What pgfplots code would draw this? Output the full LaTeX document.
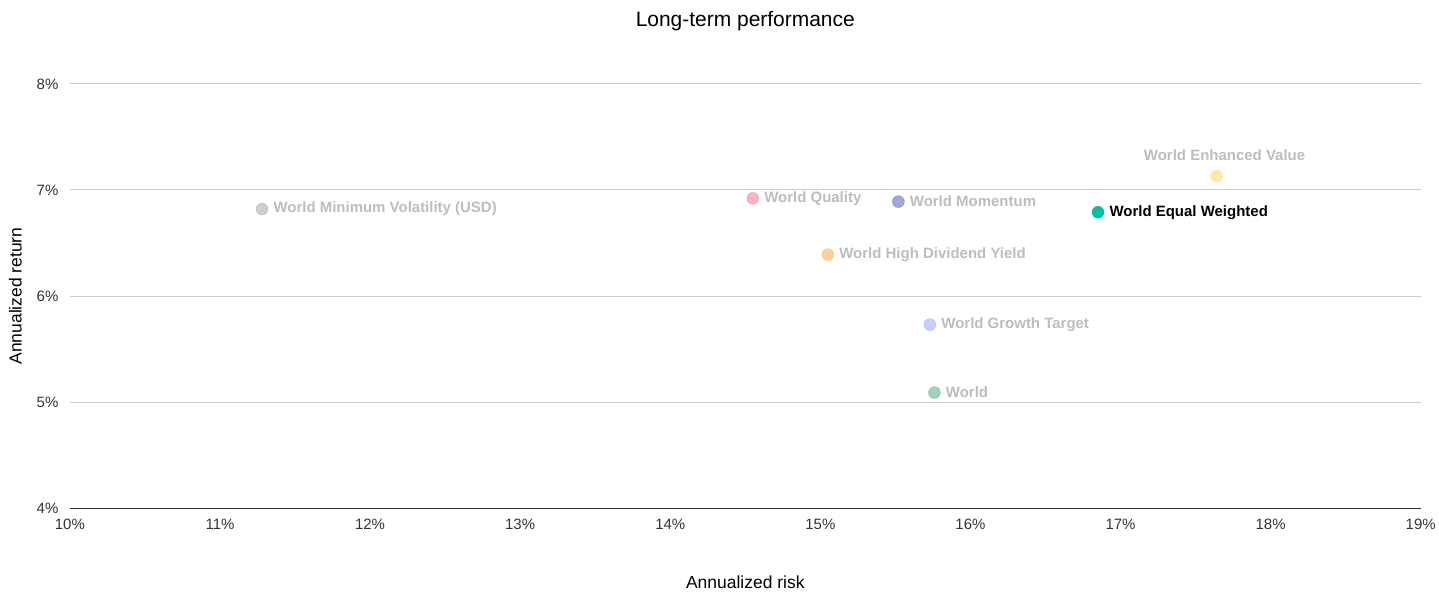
\documentclass[border=0pt]{standalone}
\usepackage{pgfplots}
\pgfplotsset{compat=1.18}
\usepackage{fontspec}
\setmainfont{Liberation Sans}
\definecolor{gridc}{HTML}{CCCCCC}
\definecolor{axisc}{HTML}{333333}
\definecolor{labc}{HTML}{BDBDBD}
\definecolor{cgray}{HTML}{9E9E9E}
\definecolor{cpink}{HTML}{EC6A84}
\definecolor{cblue}{HTML}{3F51B5}
\definecolor{cteal}{HTML}{00BFA5}
\definecolor{cyell}{HTML}{FFD25E}
\definecolor{corange}{HTML}{F5A43A}
\definecolor{clblue}{HTML}{8C9EFF}
\definecolor{cgreen}{HTML}{3FA66E}
\tikzset{lab/.style={right, xshift=8pt, text=labc, font=\fontsize{15}{17}\selectfont\bfseries}}
\begin{document}
\begin{tikzpicture}
\begin{axis}[
  at={(0,0)}, anchor=south west,
  scale only axis, width=1353pt, height=425pt,
  xmin=10, xmax=19, ymin=4, ymax=8,
  xtick={10,...,19}, ytick={4,...,8},
  xticklabel={\pgfmathprintnumber{\tick}\%},
  yticklabel={\pgfmathprintnumber{\tick}\%},
  /pgf/number format/assume math mode=true,
  ticklabel style={font=\fontsize{15}{17}\selectfont, text=axisc},
  xticklabel style={yshift=-7pt},
  yticklabel style={xshift=-8pt},
  axis x line*=bottom, axis y line*=left,
  x axis line style={draw=axisc, line width=1.2pt, -},
  y axis line style={draw=none},
  major tick length=0pt,
  ymajorgrids, grid style={draw=gridc, line width=0.9pt},
  xlabel={Annualized risk}, ylabel={Annualized return},
  label style={font=\fontsize{17.5}{19}\selectfont},
  xlabel style={yshift=-40pt},
  ylabel style={yshift=8pt},
  title={Long-term performance},
  title style={font=\fontsize{21}{23}\selectfont, yshift=44pt},
  clip=false,
  every axis plot/.style={only marks, mark=*, mark size=6pt},
]
\addplot[mark options={fill=cgray, draw=cgray, opacity=0.5}] coordinates {(11.28,6.82)} node[lab] {World Minimum Volatility (USD)};
\addplot[mark options={fill=cpink, draw=cpink, opacity=0.5}] coordinates {(14.55,6.92)} node[lab] {World Quality};
\addplot[mark options={fill=cblue, draw=cblue, opacity=0.5}] coordinates {(15.52,6.89)} node[lab] {World Momentum};
\addplot[mark options={fill=corange, draw=corange, opacity=0.5}] coordinates {(15.05,6.39)} node[lab] {World High Dividend Yield};
\addplot[mark options={fill=clblue, draw=clblue, opacity=0.5}] coordinates {(15.73,5.73)} node[lab] {World Growth Target};
\addplot[mark options={fill=cgreen, draw=cgreen, opacity=0.5}] coordinates {(15.76,5.09)} node[lab] {World};
\addplot[mark options={fill=cyell, draw=cyell, opacity=0.5}] coordinates {(17.64,7.13)} node[lab, anchor=south, xshift=0pt, yshift=12pt] {World Enhanced Value};
\addplot[mark options={fill=cteal, draw=cteal}] coordinates {(16.85,6.79)} node[lab, text=black] {World Equal Weighted};
\end{axis}
\useasboundingbox (-70pt,-81pt) rectangle (1369pt,509pt);
\end{tikzpicture}
\end{document}
